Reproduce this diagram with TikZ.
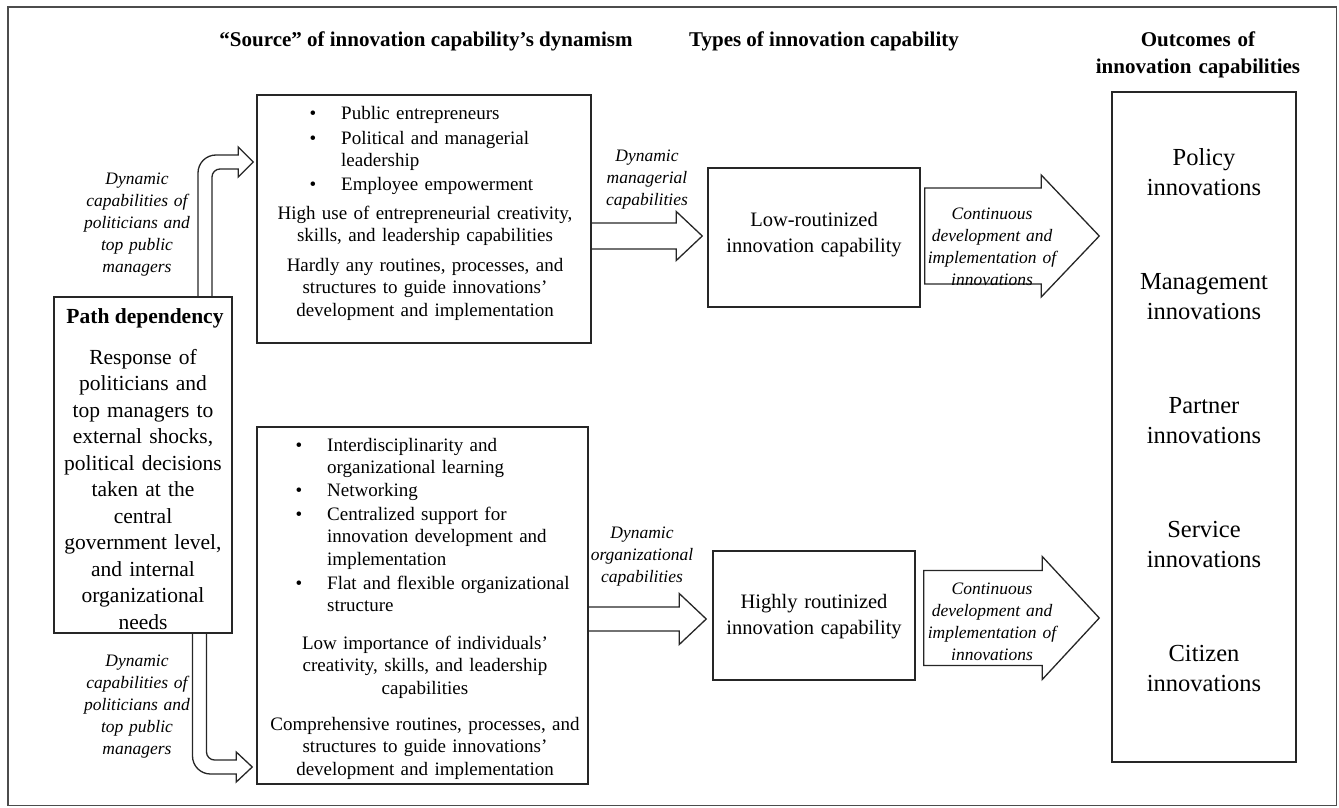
\documentclass[tikz,border=0pt]{standalone}
\usepackage{fontspec}
\setmainfont{Liberation Serif}
\usetikzlibrary{calc}

\tikzset{
  frameline/.style={draw=black!70, line width=1.6pt},
  box/.style={draw=black!85, line width=1.5pt, inner sep=0pt},
  arrowline/.style={draw=black!85, line width=1.3pt, line join=miter},
  headtext/.style={font=\bfseries\fontsize{21}{27}\selectfont, inner sep=0pt, align=center},
  bodytext/.style={font=\fontsize{19}{22.5}\selectfont, inner sep=0pt},
  pathhead/.style={font=\bfseries\fontsize{21.5}{26.5}\selectfont, inner sep=0pt},
  pathtext/.style={font=\fontsize{21.5}{26.5}\selectfont, inner sep=0pt, text width=170pt, align=center},
  typetext/.style={font=\fontsize{20.5}{26}\selectfont, inner sep=0pt, text width=200pt, align=center},
  outtext/.style={font=\fontsize{24.5}{30}\selectfont, inner sep=0pt, text width=180pt, align=center},
  labeltext/.style={font=\itshape\fontsize{17.5}{22}\selectfont, inner sep=0pt, text width=160pt, align=center},
}

% bullet hung to the left of an item's text
\newcommand\bulletmark{\llap{\textbullet\hspace{25pt}}}

% straight block arrow: [path ending], start, tip, shaft half-width, head half-width, head length
\newcommand\blockarrow[6][]{%
  \draw[arrowline] let \p1=(#2), \p2=(#3) in
    (\x1,\y2+#4) -- (\x2-#6,\y2+#4) -- (\x2-#6,\y2+#5) -- (\x2,\y2)
    -- (\x2-#6,\y2-#5) -- (\x2-#6,\y2-#4) -- (\x1,\y2-#4) #1;}

\begin{document}
\begin{tikzpicture}[x=1pt,y=-1pt]
\useasboundingbox (0,0) rectangle (1339,808);
\draw[frameline] (8,7) rectangle (1336.5,805.5);

% column headings
\node[headtext, anchor=base] (hsrc) at (426,47) {“Source” of innovation capability’s dynamism};
\node[headtext, anchor=base] (htype) at (824,47) {Types of innovation capability};
\node[headtext, anchor=base, text width=240pt] (hout) at (1198,47) {Outcomes of\\innovation capabilities};

% path dependency
\node[box, minimum width=178pt, minimum height=336pt] (pathbox) at (143,465) {};
\node[pathhead, anchor=base] (pathtitle) at (145,323) {Path dependency};
\node[pathtext, anchor=base] (pathbody) at (143,364) {Response of\\politicians and\\top managers to\\external shocks,\\political decisions\\taken at the\\central\\government level,\\and internal\\organizational\\needs};

% upper source box
\node[box, minimum width=334pt, minimum height=248pt] (src1) at (424,219) {};
\node[bodytext, anchor=base west, text width=240pt, align=left] (s1a) at (341,119) {\bulletmark Public entrepreneurs};
\node[bodytext, anchor=base west, text width=240pt, align=left] (s1b) at (341,144) {\bulletmark Political and managerial\\leadership};
\node[bodytext, anchor=base west, text width=240pt, align=left] (s1c) at (341,190) {\bulletmark Employee empowerment};
\node[bodytext, anchor=base, text width=330pt, align=center] (s1d) at (425,219) {High use of entrepreneurial creativity,\\skills, and leadership capabilities};
\node[bodytext, anchor=base, text width=330pt, align=center] (s1e) at (425,271) {Hardly any routines, processes, and\\structures to guide innovations’\\development and implementation};

% lower source box
\node[box, minimum width=331pt, minimum height=357pt] (src2) at (422.5,605.5) {};
\node[bodytext, anchor=base west, text width=260pt, align=left] (s2a) at (327,451) {\bulletmark Interdisciplinarity and\\organizational learning};
\node[bodytext, anchor=base west, text width=260pt, align=left] (s2b) at (327,496) {\bulletmark Networking};
\node[bodytext, anchor=base west, text width=260pt, align=left] (s2c) at (327,520) {\bulletmark Centralized support for\\innovation development and\\implementation};
\node[bodytext, anchor=base west, text width=260pt, align=left] (s2d) at (327,589) {\bulletmark Flat and flexible organizational\\structure};
\node[bodytext, anchor=base, text width=330pt, align=center] (s2e) at (425,649) {Low importance of individuals’\\creativity, skills, and leadership\\capabilities};
\node[bodytext, anchor=base, text width=330pt, align=center] (s2f) at (425,730) {Comprehensive routines, processes, and\\structures to guide innovations’\\development and implementation};

% capability types
\node[box, minimum width=212pt, minimum height=139pt] (low) at (814,237.5) {};
\node[typetext, anchor=base] (lowtext) at (814,226) {Low-routinized\\innovation capability};
\node[box, minimum width=202pt, minimum height=129pt] (high) at (814,615.5) {};
\node[typetext, anchor=base] (hightext) at (814,608) {Highly routinized\\innovation capability};

% outcomes
\node[box, minimum width=184pt, minimum height=670pt] (out) at (1204,427) {};
\node[outtext, anchor=base] (o1) at (1204,165) {Policy\\innovations};
\node[outtext, anchor=base] (o2) at (1204,289) {Management\\innovations};
\node[outtext, anchor=base] (o3) at (1204,413) {Partner\\innovations};
\node[outtext, anchor=base] (o4) at (1204,537) {Service\\innovations};
\node[outtext, anchor=base] (o5) at (1204,661) {Citizen\\innovations};

% bent arrows out of the path dependency box
\coordinate (upS) at ($(pathbox.north)+(62,0)$);
\coordinate (upT) at ($(src1.west)+(-3,-57)$);
\draw[arrowline] let \p1=(upS), \p2=(upT) in
  (\x1-7pt,\y1) -- (\x1-7pt,\y2-11pt) .. controls (\x1-7pt,\y2-1pt) and (\x1+1pt,\y2+7pt) .. (\x1+11pt,\y2+7pt)
  -- (\x2-15pt,\y2+7pt) -- (\x2-15pt,\y2+15pt) -- (\x2,\y2) -- (\x2-15pt,\y2-15pt) -- (\x2-15pt,\y2-7pt)
  -- (\x1+15pt,\y2-7pt) .. controls (\x1+10.6pt,\y2-7pt) and (\x1+7pt,\y2-10.6pt) .. (\x1+7pt,\y2-15pt)
  -- (\x1+7pt,\y1);

\coordinate (loS) at ($(pathbox.south)+(56.5,0)$);
\coordinate (loT) at ($(src2.west)+(-4,161.5)$);
\draw[arrowline] let \p1=(loS), \p2=(loT) in
  (\x1-7pt,\y1) -- (\x1-7pt,\y2+11pt) .. controls (\x1-7pt,\y2+1pt) and (\x1+1pt,\y2-7pt) .. (\x1+11pt,\y2-7pt)
  -- (\x2-16pt,\y2-7pt) -- (\x2-16pt,\y2-15pt) -- (\x2,\y2) -- (\x2-16pt,\y2+15pt) -- (\x2-16pt,\y2+7pt)
  -- (\x1+15pt,\y2+7pt) .. controls (\x1+10.6pt,\y2+7pt) and (\x1+7pt,\y2+10.6pt) .. (\x1+7pt,\y2+15pt)
  -- (\x1+7pt,\y1);

\node[labeltext, anchor=base] (lblup) at (137,184) {Dynamic\\capabilities of\\politicians and\\top public\\managers};
\node[labeltext, anchor=base] (lbllo) at (137,666) {Dynamic\\capabilities of\\politicians and\\top public\\managers};

% source boxes to capability types
\coordinate (tipA) at ($(low.west)+(-5,-1.5)$);
\blockarrow{src1.east}{tipA}{13pt}{24.5pt}{26pt}
\node[labeltext, anchor=base] (lblman) at (647,161) {Dynamic\\managerial\\capabilities};

\coordinate (tipB) at ($(high.west)+(-6,3.5)$);
\blockarrow{src2.east}{tipB}{12pt}{25.5pt}{27pt}
\node[labeltext, anchor=base] (lblorg) at (642,538) {Dynamic\\organizational\\capabilities};

% capability types to outcomes
\coordinate (c1s) at ($(low.east)+(4,-1.5)$);
\coordinate (c1t) at ($(out.west|-c1s)+(-12,0)$);
\blockarrow[-- cycle]{c1s}{c1t}{48pt}{61pt}{58pt}
\node[labeltext, anchor=base] (lblc1) at (992,219) {Continuous\\development and\\implementation of\\innovations};

\coordinate (c2s) at ($(high.east)+(8,2.5)$);
\coordinate (c2t) at ($(out.west|-c2s)+(-12,0)$);
\blockarrow[-- cycle]{c2s}{c2t}{47.5pt}{61.5pt}{57pt}
\node[labeltext, anchor=base] (lblc2) at (992,594) {Continuous\\development and\\implementation of\\innovations};
\end{tikzpicture}
\end{document}
